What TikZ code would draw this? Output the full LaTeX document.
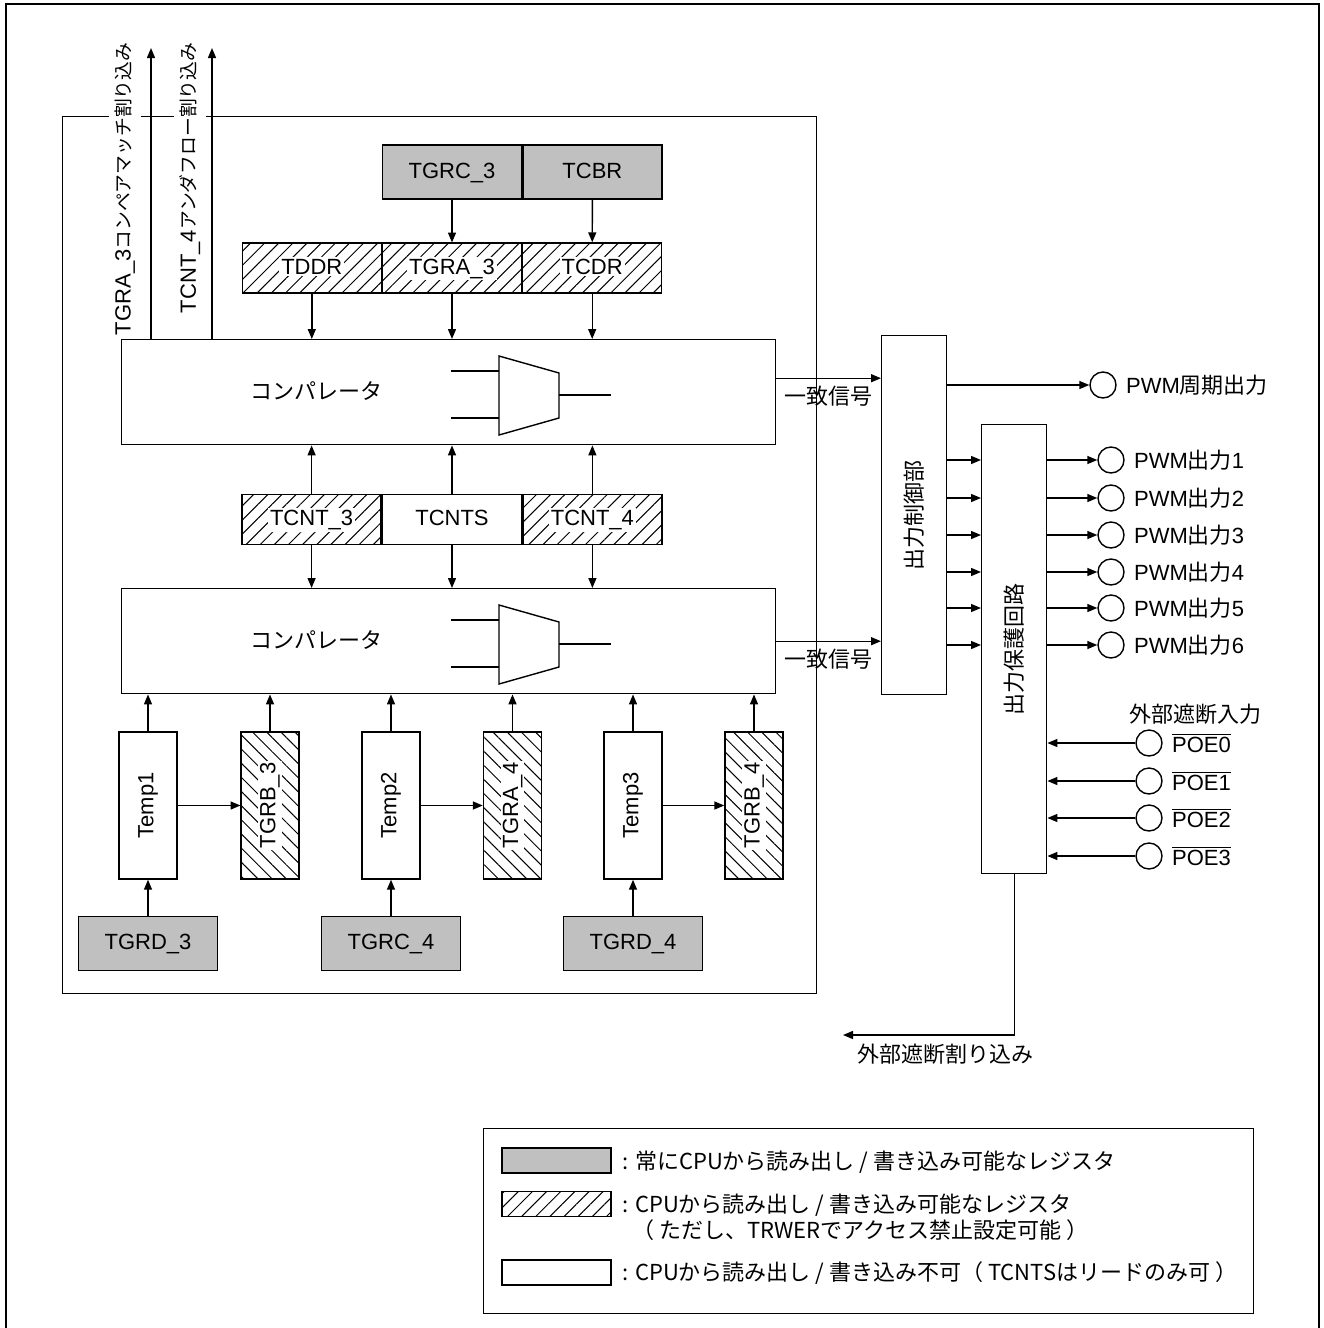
\documentclass[tikz,border=0pt]{standalone}
\usepackage{fontspec}
\setmainfont{Liberation Sans}
\newfontfamily\jp{Noto Sans CJK JP}
\usepackage{graphicx}
\usetikzlibrary{positioning}
\usetikzlibrary{arrows.meta}
\usetikzlibrary{patterns.meta}
\definecolor{regray}{RGB}{192,192,192}
\newcommand{\wtxt}[1]{{\setlength{\fboxsep}{1pt}\colorbox{white}{#1}}}
\newcommand{\vtext}[1]{\rotatebox{90}{#1}}
\newcommand{\jpsmall}{\jp\fontsize{9.4}{11}\selectfont}

\begin{document}
\begin{tikzpicture}[
    x=0.5pt, y=-0.5pt,
    font=\fontsize{11}{13}\selectfont,
    >={Triangle[length=5pt,width=4pt]},
    line width=0.7pt,
    reg/.style={draw, minimum width=69.5pt, minimum height=25pt, inner sep=0pt,
      text height=8pt, text depth=2pt},
    reggray/.style={reg, fill=regray, minimum height=27pt},
    reghatch/.style={reg, pattern={Lines[angle=45,distance=5pt,line width=0.5pt]}},
    vreg/.style={draw, minimum width=29pt, minimum height=73.5pt, inner sep=0pt},
    vreghatch/.style={vreg, pattern={Lines[angle=-45,distance=5pt,line width=0.5pt]}},
    blk/.style={draw, inner sep=0pt, anchor=north west},
    pin/.style={draw, circle, minimum size=13pt, inner sep=0pt},
    irqlbl/.style={rotate=90, anchor=east, fill=white, inner xsep=0pt, inner ysep=3pt},
    cmpsym/.pic={
      \draw (-30,-39) -- (30,-22) -- (30,23) -- (-30,40) -- cycle;
      \draw (-78,-24) -- (-30,-24) (-78,23) -- (-30,23) (30,0) -- (82,0);
    }]
    \useasboundingbox (0,0) rectangle (1323,1328);

    % cornice esterna
    \draw[line width=1.3pt] (6,1328) -- (6,4) -- (1319,4) -- (1319,1328);

    % blocco del timer
    \node[blk, minimum width=377pt, minimum height=438.5pt] (tmr) at (62,116) {};

    % interrupt verso l'alto
    \node[irqlbl] (irqa) at (125,42) {TGRA\_3{\jpsmall コンペアマッチ割り込み}};
    \node[irqlbl] (irqb) at (190,42) {TCNT\_4{\jpsmall アンダフロー割り込み}};
    \coordinate (upa) at (151,48);
    \coordinate (upb) at (212,48);

    % registri in alto
    \node[reggray] (tgrc3) at (452,172) {TGRC\_3};
    \node[reggray, right=0pt of tgrc3] (tcbr) {TCBR};
    \node[reghatch] (tgra3) at (452,268) {\wtxt{TGRA\_3}};
    \node[reghatch, left=0pt of tgra3] (tddr) {\wtxt{TDDR}};
    \node[reghatch, right=0pt of tgra3] (tcdr) {\wtxt{TCDR}};

    % comparatori
    \node[blk, minimum width=327pt, minimum height=52.5pt] (cmp1) at (121,339) {};
    \node (cmptxt1) at (316,391) {\jp コンパレータ};
    \pic at (529,395) {cmpsym};

    \node[reg] (tcnts) at (452,519.5) {TCNTS};
    \node[reghatch, left=0pt of tcnts] (tcnt3) {\wtxt{TCNT\_3}};
    \node[reghatch, right=0pt of tcnts] (tcnt4) {\wtxt{TCNT\_4}};

    \node[blk, minimum width=327pt, minimum height=52.5pt] (cmp2) at (121,588) {};
    \node (cmptxt2) at (316,640) {\jp コンパレータ};
    \pic at (529,644) {cmpsym};

    % buffer e registri in basso
    \node[vreg] (tmp1) at (148,805.5) {\vtext{Temp1}};
    \node[vreghatch] (tgrb3) at (270,805.5) {\vtext{\wtxt{TGRB\_3}}};
    \node[reggray] (tgrd3) at (148,943.5) {TGRD\_3};
    \node[vreg] (tmp2) at (391,805.5) {\vtext{Temp2}};
    \node[vreghatch] (tgra4) at (512.5,805.5) {\vtext{\wtxt{TGRA\_4}}};
    \node[reggray] (tgrc4) at (391,943.5) {TGRC\_4};
    \node[vreg] (tmp3) at (633,805.5) {\vtext{Temp3}};
    \node[vreghatch] (tgrb4) at (754,805.5) {\vtext{\wtxt{TGRB\_4}}};
    \node[reggray] (tgrd4) at (633,943.5) {TGRD\_4};

    % frecce del timer
    \draw[->] (cmp1.north west -| upa) -- (upa);
    \draw[->] (cmp1.north west -| upb) -- (upb);
    \draw[->] (tgrc3) -- (tgra3);
    \draw[->] (tcbr) -- (tcdr);
    \draw[->] (tddr) -- (tddr |- cmp1.north);
    \draw[->] (tgra3) -- (tgra3 |- cmp1.north);
    \draw[->] (tcdr) -- (tcdr |- cmp1.north);
    \draw[->] (tcnt3) -- (tcnt3 |- cmp1.south);
    \draw[->] (tcnts) -- (tcnts |- cmp1.south);
    \draw[->] (tcnt4) -- (tcnt4 |- cmp1.south);
    \draw[->] (tcnt3) -- (tcnt3 |- cmp2.north);
    \draw[->] (tcnts) -- (tcnts |- cmp2.north);
    \draw[->] (tcnt4) -- (tcnt4 |- cmp2.north);
    \draw[->] (tgrd3) -- (tmp1);
    \draw[->] (tgrc4) -- (tmp2);
    \draw[->] (tgrd4) -- (tmp3);
    \draw[->] (tmp1) -- (tgrb3);
    \draw[->] (tmp2) -- (tgra4);
    \draw[->] (tmp3) -- (tgrb4);
    \draw[->] (tmp1) -- (tmp1 |- cmp2.south);
    \draw[->] (tgrb3) -- (tgrb3 |- cmp2.south);
    \draw[->] (tmp2) -- (tmp2 |- cmp2.south);
    \draw[->] (tgra4) -- (tgra4 |- cmp2.south);
    \draw[->] (tmp3) -- (tmp3 |- cmp2.south);
    \draw[->] (tgrb4) -- (tgrb4 |- cmp2.south);

    % controllo e protezione uscite
    \node[blk, minimum width=32.5pt, minimum height=179.5pt] (oc) at (881,335) {\vtext{\jp 出力制御部}};
    \node[blk, minimum width=32.5pt, minimum height=224.5pt] (pg) at (981,424) {\vtext{\jp 出力保護回路}};

    \draw[->] ([yshift=7pt]cmp1.east) -- node[below] {\jp 一致信号} ([yshift=7pt]cmp1.east -| oc.west);
    \draw[->] (cmp2.east) -- node[below] {\jp 一致信号} (cmp2.east -| oc.west);

    % uscite PWM
    \node[pin] (opc) at (1103,385) {};
    \node[right=1pt of opc] (opctxt) {PWM{\jp 周期出力}};
    \draw[->] (oc.east |- opc) -- (opc);

    \node[pin] (o1) at (1111,460) {};
    \node[pin] (o2) at (1111,498) {};
    \node[pin] (o3) at (1111,535) {};
    \node[pin] (o4) at (1111,572) {};
    \node[pin] (o5) at (1111,608) {};
    \node[pin] (o6) at (1111,645) {};
    \node[right=1pt of o1] (otxt1) {PWM{\jp 出力}1};
    \node[right=1pt of o2] (otxt2) {PWM{\jp 出力}2};
    \node[right=1pt of o3] (otxt3) {PWM{\jp 出力}3};
    \node[right=1pt of o4] (otxt4) {PWM{\jp 出力}4};
    \node[right=1pt of o5] (otxt5) {PWM{\jp 出力}5};
    \node[right=1pt of o6] (otxt6) {PWM{\jp 出力}6};
    \draw[->] (pg.east |- o1) -- (o1);
    \draw[->] (pg.east |- o2) -- (o2);
    \draw[->] (pg.east |- o3) -- (o3);
    \draw[->] (pg.east |- o4) -- (o4);
    \draw[->] (pg.east |- o5) -- (o5);
    \draw[->] (pg.east |- o6) -- (o6);
    \draw[->] (oc.east |- o1) -- (pg.west |- o1);
    \draw[->] (oc.east |- o2) -- (pg.west |- o2);
    \draw[->] (oc.east |- o3) -- (pg.west |- o3);
    \draw[->] (oc.east |- o4) -- (pg.west |- o4);
    \draw[->] (oc.east |- o5) -- (pg.west |- o5);
    \draw[->] (oc.east |- o6) -- (pg.west |- o6);

    % ingressi POE
    \node (poetxt) at (1195,714) {\jp 外部遮断入力};
    \node[pin] (p0) at (1149,743) {};
    \node[pin] (p1) at (1149,781) {};
    \node[pin] (p2) at (1149,818) {};
    \node[pin] (p3) at (1149,856) {};
    \node[right=1pt of p0] (ptxt0) {$\overline{\mbox{POE0}}$};
    \node[right=1pt of p1] (ptxt1) {$\overline{\mbox{POE1}}$};
    \node[right=1pt of p2] (ptxt2) {$\overline{\mbox{POE2}}$};
    \node[right=1pt of p3] (ptxt3) {$\overline{\mbox{POE3}}$};
    \draw[->] (p0) -- (p0 -| pg.east);
    \draw[->] (p1) -- (p1 -| pg.east);
    \draw[->] (p2) -- (p2 -| pg.east);
    \draw[->] (p3) -- (p3 -| pg.east);

    \coordinate (ext) at (843,1035);
    \draw[->] (pg) -- (pg |- ext) -- node[pos=0.4, below=1pt] {\jp 外部遮断割り込み} (ext);

    % legenda
    \node[blk, minimum width=385pt, minimum height=92.5pt] (leg) at (483,1128) {};
    \node[draw, fill=regray, minimum width=54.5pt, minimum height=12.5pt] (lg1) at (556.5,1160.5) {};
    \node[draw, pattern={Lines[angle=45,distance=5pt,line width=0.5pt]}, minimum width=54.5pt, minimum height=12.5pt] (lg2) at (556.5,1204) {};
    \node[draw, minimum width=54.5pt, minimum height=12.5pt] (lg3) at (556.5,1272.5) {};
    \node[anchor=west] (lt1) at (615,1162) {\jp : 常にCPUから読み出し / 書き込み可能なレジスタ};
    \node[anchor=west] (lt2) at (615,1205) {\jp : CPUから読み出し / 書き込み可能なレジスタ};
    \node[anchor=west] (lt2b) at (625,1230) {\jp （ ただし、TRWERでアクセス禁止設定可能 ）};
    \node[anchor=west] (lt3) at (615,1273) {\jp : CPUから読み出し / 書き込み不可（ TCNTSはリードのみ可 ）};
\end{tikzpicture}
\end{document}
